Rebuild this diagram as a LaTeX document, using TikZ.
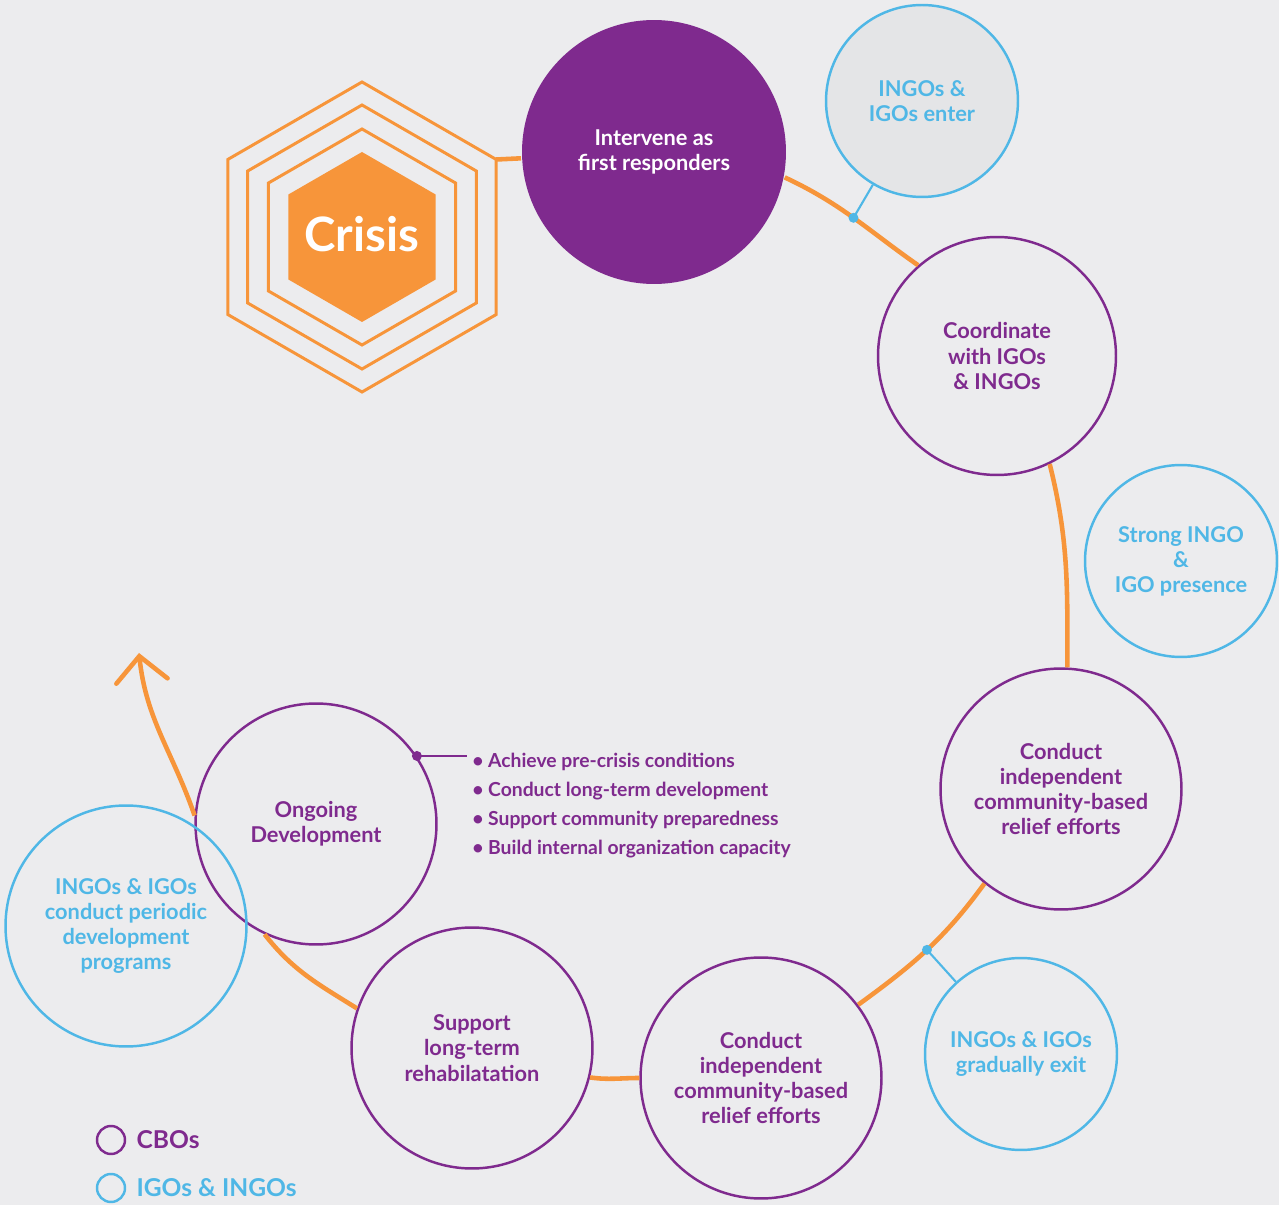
\documentclass[tikz,border=0pt]{standalone}
\usepackage{fontspec}
\setmainfont{Lato}
\usetikzlibrary{arrows.meta,positioning}
\definecolor{cbo}{HTML}{7F2A8E}
\definecolor{igo}{HTML}{4FB7E6}
\definecolor{flow}{HTML}{F7953A}
\definecolor{paper}{HTML}{ECECEE}
\definecolor{enterfill}{HTML}{E4E5E7}

\begin{document}
\begin{tikzpicture}[x=0.02cm,y=0.02cm,
    label font/.style={font=\fontsize{12.4}{14.3}\selectfont\bfseries},
    cbo step/.style={circle,draw=cbo,line width=1.4pt,text=cbo,align=center,
      minimum size=4.82cm,inner sep=0pt,label font},
    igo step/.style={circle,draw=igo,line width=1.4pt,text=igo,align=center,
      minimum size=3.84cm,inner sep=0pt,label font},
    flowline/.style={draw=flow,line width=2.6pt},
    hexline/.style={draw=flow,line width=1.7pt},
    igo link/.style={draw=igo,line width=1.2pt},
    dotmark/.style={circle,fill=#1,inner sep=0pt,minimum size=0.2cm},
    key/.style={circle,draw=#1,line width=1.4pt,minimum size=0.56cm,inner sep=0pt}]
  \fill[paper] (0,0) rectangle (1279,1205);
  \useasboundingbox (0,0) rectangle (1279,1205);

  % crisis hexagons
  \foreach \r in {155,132,108}
    \draw[hexline,shift={(362,968)}] (30:\r) -- (90:\r) -- (150:\r) -- (210:\r)
      -- (270:\r) -- (330:\r) -- cycle;
  \fill[flow,shift={(362,968)}] (30:85) -- (90:85) -- (150:85) -- (210:85)
      -- (270:85) -- (330:85) -- cycle;
  \coordinate (hexout) at ([shift={(362,968)}]30:155);
  \node[text=white,font=\fontsize{27}{30}\selectfont\bfseries] (crisis) at (362,971) {Crisis};

  % steps
  \node[cbo step,fill=cbo,text=white,draw=none,minimum size=5.28cm] (first) at (654,1053)
    {Intervene as\\first responders};
  \node[igo step,fill=enterfill] (enter) at (922,1104) {INGOs \&\\IGOs enter};
  \node[cbo step,minimum size=4.76cm] (coordinate) at (997,849)
    {Coordinate\\with IGOs\\\& INGOs};
  \node[igo step] (strong) at (1181,644) {Strong INGO\\\&\\IGO presence};
  \node[cbo step] (reliefA) at (1061,416)
    {Conduct\\independent\\community-based\\relief efforts};
  \node[igo step] (exit) at (1021,151) {INGOs \& IGOs\\gradually exit};
  \node[cbo step] (reliefB) at (761,127)
    {Conduct\\independent\\community-based\\relief efforts};
  \node[cbo step] (rehab) at (472,157) {Support\\long-term\\rehabilatation};
  \node[cbo step] (ongoing) at (316,381) {Ongoing\\Development};
  \node[igo step,minimum size=4.82cm] (periodic) at (126,279)
    {INGOs \& IGOs\\conduct periodic\\development\\programs};
  \coordinate (tip) at (139,552);

  % cycle
  \draw[flowline] (hexout) -- (first);
  \draw[flowline] (first.-11) to[out=-25,in=145] coordinate[pos=0.5] (dotA) (coordinate.131);
  \draw[flowline] (coordinate.-64) to[out=-76,in=90] (reliefA.87);
  \draw[flowline] (reliefA.-129) to[out=-126,in=36] coordinate[pos=0.5] (dotB) (reliefB.37);
  \draw[flowline] (reliefB.180) to[out=180,in=-8] (rehab.-14);
  \draw[flowline] (rehab.161) to[out=148,in=-52] (ongoing.-115);
  \draw[flowline,-{Straight Barb[length=0.5cm,width=1.03cm,line cap=round]}]
    (ongoing.176) to[out=109,in=-84] (tip);

  \draw[igo link] (dotA) -- (enter);
  \draw[igo link] (dotB) -- (exit);
  \node[dotmark=igo] at (dotA) {};
  \node[dotmark=igo] at (dotB) {};

  % ongoing tasks
  \draw[cbo,line width=1.2pt] (ongoing.34) -- ++(50,0) coordinate (taskend);
  \node[right=0.1cm of taskend,anchor=north west,yshift=0.06cm,align=left,inner sep=0pt,text=cbo,
    font=\fontsize{11}{16.5}\selectfont\bfseries] (tasks)
    {• Achieve pre-crisis conditions\\• Conduct long-term development\\
     • Support community preparedness\\• Build internal organization capacity};
  \node[dotmark=cbo] at (ongoing.34) {};

  % legend
  \node[key=cbo] (cbokey) at (111,65) {};
  \node[key=igo] (igokey) at (111,17) {};
  \node[right=0.2cm of cbokey,inner sep=0pt,text=cbo,font=\fontsize{14}{16}\selectfont\bfseries] {CBOs};
  \node[right=0.2cm of igokey,inner sep=0pt,text=igo,font=\fontsize{14}{16}\selectfont\bfseries] {IGOs \& INGOs};
\end{tikzpicture}
\end{document}
